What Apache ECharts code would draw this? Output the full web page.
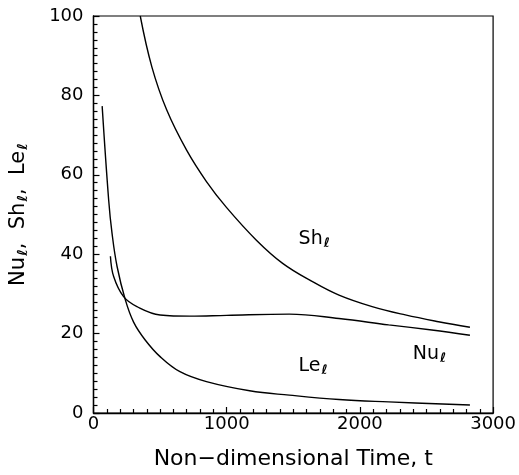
<!DOCTYPE html>
<html>
<head>
<meta charset="utf-8">
<script src="https://cdn.jsdelivr.net/npm/echarts@6/dist/echarts.min.js"></script>
<style>
html,body{margin:0;padding:0;background:#fff;}
#chart{width:519px;height:475px;}
</style>
</head>
<body>
<div id="chart"></div>
<script>
// Data
var xTicks = [0, 1000, 2000, 3000];
var yTicks = [0, 20, 40, 60, 80, 100];
var shData = [[351,100],[438,87.2],[550,76.3],[699,66.2],[848,58.3],[998,51.8],[1221,43.6],[1420,37.7],[1644,33.1],[1843,29.7],[2092,26.8],[2341,24.7],[2590,23.0],[2826,21.6]];
var nuData = [[127,39.5],[152,34.3],[226,29.3],[326,26.8],[500,24.7],[724,24.4],[1000,24.6],[1470,24.9],[1843,23.8],[2216,22.2],[2540,20.9],[2826,19.6]];
var leData = [[65,77.3],[114,53.6],[139,45.3],[177,36.9],[239,28.5],[301,22.9],[388,18.4],[500,14.2],[649,10.4],[848,7.9],[1172,5.6],[1470,4.5],[1843,3.4],[2216,2.8],[2826,2.0]];
var curveLabels = [
  {name: 'Sh', value: [1657, 43.8]},
  {name: 'Nu', value: [2522, 14.9]},
  {name: 'Le', value: [1649, 11.8]}
];
var xName = 'Non\u2212dimensional Time, t';

var FONT = 'DejaVu Sans';
var INK = '#000';
var chart = echarts.init(document.getElementById('chart'), null, {renderer: 'canvas'});
function lineSeries(data) {
  return {
    type: 'line', data: data, smooth: 0.4, symbol: 'none',
    lineStyle: {color: INK, width: 1.4}, silent: true
  };
}
var sub = {fontFamily: FONT, fontSize: 13, fontWeight: 'bold', color: INK, padding: [9, 0, 0, 1]};
var subName = {fontFamily: FONT, fontSize: 14, fontWeight: 'bold', color: INK, padding: [10, 0, 0, 1]};
chart.setOption({
  animation: false,
  backgroundColor: '#fff',
  grid: {left: 93, right: 24, top: 16, bottom: 62, show: true, borderColor: INK, borderWidth: 1.2},
  xAxis: {
    type: 'value', min: xTicks[0], max: xTicks[xTicks.length - 1], interval: 1000,
    axisLine: {show: true, lineStyle: {color: INK, width: 1.4}},
    axisTick: {show: true, inside: true, length: 6, lineStyle: {color: INK, width: 1.2}},
    minorTick: {show: true, splitNumber: 10, length: 4, lineStyle: {color: INK, width: 1.2}},
    splitLine: {show: false},
    axisLabel: {fontFamily: FONT, fontSize: 18, color: INK, margin: 2, formatter: function (v) { return String(v); }},
    name: xName, nameLocation: 'middle', nameGap: 35,
    nameTextStyle: {fontFamily: FONT, fontSize: 22, color: INK}
  },
  yAxis: {
    type: 'value', min: yTicks[0], max: yTicks[yTicks.length - 1], interval: 20,
    axisLine: {show: true, lineStyle: {color: INK, width: 1.4}},
    axisTick: {show: true, inside: true, length: 6, lineStyle: {color: INK, width: 1.2}},
    minorTick: {show: true, splitNumber: 10, length: 4, lineStyle: {color: INK, width: 1.2}},
    splitLine: {show: false},
    axisLabel: {fontFamily: FONT, fontSize: 18, color: INK, margin: 10, formatter: function (v) { return String(v); }},
    name: '{m|Nu}{s|ℓ}{m|,  Sh}{s|ℓ}{m|,  Le}{s|ℓ}', nameLocation: 'middle', nameGap: 63, nameRotate: 90,
    nameTextStyle: {fontFamily: FONT, fontSize: 21, color: INK,
      rich: {m: {fontFamily: FONT, fontSize: 21, color: INK}, s: subName}}
  },
  series: [
    lineSeries(shData),
    lineSeries(nuData),
    lineSeries(leData),
    {
      type: 'scatter', data: curveLabels, symbolSize: 0, silent: true,
      itemStyle: {color: INK, opacity: 1},
      label: {
        show: true, position: 'inside', color: INK,
        formatter: function (p) { return '{m|' + p.name + '}{s|ℓ}'; },
        rich: {m: {fontFamily: FONT, fontSize: 19, color: INK}, s: sub}
      }
    }
  ]
});
</script>
</body>
</html>
